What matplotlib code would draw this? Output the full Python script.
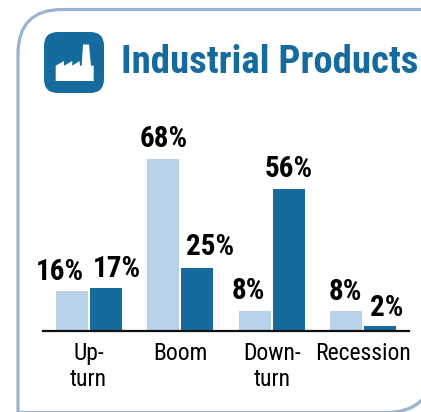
import matplotlib
matplotlib.use("Agg")
import matplotlib.pyplot as plt
import numpy as np
from matplotlib.patches import FancyBboxPatch, PathPatch, Polygon
from matplotlib.path import Path

plt.rcParams['font.family'] = ['Roboto Condensed', 'Liberation Sans', 'DejaVu Sans']

# Sector survey results
phases = ['Up-\nturn', 'Boom', 'Down-\nturn', 'Recession']
light_vals = [16, 68, 8, 8]
dark_vals = [17, 25, 56, 2]

LIGHT = '#BAD1EA'
DARK = '#156B9E'
FRAME = '#9BB3D3'

W, H = 421, 412
fig = plt.figure(figsize=(W / 100, H / 100), dpi=100)

# Background layer in pixel units for the frame and the icon
bg = fig.add_axes([0, 0, 1, 1])
bg.set_xlim(0, W)
bg.set_ylim(H, 0)
bg.axis('off')

# Panel outline: rounded top left and bottom right, the rest runs off the canvas
verts = [(18, 412.5), (18, 54), (18, 9.5), (62, 9.5), (432, 9.5), (432, 367),
         (432, 412.5), (386, 412.5), (18, 412.5)]
codes = [Path.MOVETO, Path.LINETO, Path.CURVE3, Path.CURVE3, Path.LINETO, Path.LINETO,
         Path.CURVE3, Path.CURVE3, Path.LINETO]
bg.add_patch(PathPatch(Path(verts, codes), fc='white', ec=FRAME, lw=2.3))

icon = FancyBboxPatch((56, 44), 36, 37, boxstyle='round,pad=12,rounding_size=14',
                      fc=DARK, ec='none')
bg.add_patch(icon)

factory = [(55.7, 81), (55.7, 65.7), (64, 61), (64, 65.7), (72.3, 61), (72.3, 65.7),
           (79.5, 61), (80, 65.7), (81.7, 65.7), (83, 44.5), (89, 44.5), (91, 65.7),
           (93.7, 65.7), (93.7, 81)]
bg.add_patch(Polygon(factory, closed=True, fc='white', ec='none'))

bg.text(121, 73, 'Industrial Products', color=DARK, fontsize=27.9, fontweight='bold',
        ha='left', va='baseline')

# Bars
left, right, base, top = 43, 409, 331, 128.6
ax = fig.add_axes([left / W, 1 - base / H, (right - left) / W, (base - top) / H])
ax.patch.set_alpha(0)

x = np.arange(len(phases))
width = 0.35
offset = 0.186
bars1 = ax.bar(x - offset, light_vals, width, color=LIGHT)
bars2 = ax.bar(x + offset, dark_vals, width, color=DARK)

ax.set_xlim(-0.5, 3.5)
ax.set_ylim(0, 80)
ax.set_yticks([])
ax.set_xticks(x)
ax.set_xticklabels(phases, fontsize=17, linespacing=1.15)
ax.tick_params(axis='x', length=0, pad=8)

for side in ['top', 'left', 'right']:
    ax.spines[side].set_visible(False)
ax.spines['bottom'].set_linewidth(1.6)
ax.spines['bottom'].set_color('#111111')

# Value labels, nudged sideways so they clear their neighbours
light_nudge = [(-12, 5), (0, 6), (-6, 6), (-1, 5)]
dark_nudge = [(11, 5), (13, 7), (0, 6), (6, 4)]
for bars, vals, nudges in [(bars1, light_vals, light_nudge), (bars2, dark_vals, dark_nudge)]:
    for b, v, (dx, dy) in zip(bars, vals, nudges):
        ax.annotate(f'{v}%', (b.get_x() + b.get_width() / 2, v),
                    xytext=(dx * 0.72, dy * 0.72), textcoords='offset points',
                    ha='center', va='bottom', fontsize=21, fontweight='bold',
                    color='black', annotation_clip=False)

fig.savefig('out.png', dpi=100)
